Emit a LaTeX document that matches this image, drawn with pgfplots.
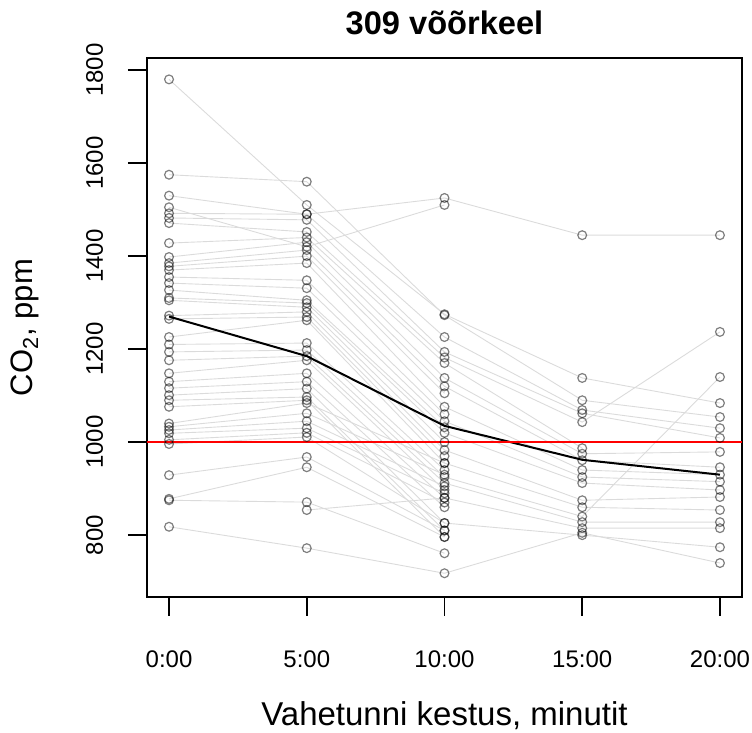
\documentclass[border=0pt]{standalone}
\usepackage{fontspec}
\setmainfont{Liberation Sans}
\usepackage{pgfplots}
\pgfplotsset{compat=1.18}

% one class break, CO2 readings every five minutes
\pgfplotsset{
  run/.style={color=black!14, line width=0.45pt,
    mark=o, mark size=2.2pt,
    mark options={draw=black, draw opacity=0.5, line width=0.6pt}},
}

\begin{document}
\begin{tikzpicture}
\begin{axis}[
  name=ax, at={(0,0)}, anchor=south west,
  scale only axis, width=297.5pt, height=269.5pt,
  xmin=-0.8, xmax=20.8, ymin=667, ymax=1826,
  xtick={0,5,10,15,20},
  xticklabels={0:00,5:00,10:00,15:00,20:00},
  ytick={800,1000,1200,1400,1600,1800},
  yticklabels={800,1000,1200,1400,1600,1800},
  tick align=outside, xtick pos=bottom, ytick pos=left,
  major tick length=9.5pt,
  axis line style={line width=0.8pt},
  every tick/.style={black, line width=0.8pt},
  tick label style={font=\fontsize{12}{14}\selectfont},
  xticklabel style={anchor=base, yshift=-26pt},
  yticklabel style={xshift=-12.5pt, rotate=90, anchor=base},
  title={\bfseries 309 võõrkeel},
  title style={font=\fontsize{16.3}{19}\selectfont,
    at={(axis description cs:0.5,1.022)}, anchor=base},
  xlabel={Vahetunni kestus, minutit},
  xlabel style={font=\fontsize{16.5}{19}\selectfont,
    at={(axis description cs:0.5,-0.2375)}, anchor=base},
  ylabel={CO\textsubscript{2}, ppm},
  ylabel style={font=\fontsize{15.5}{18}\selectfont,
    at={(axis description cs:-0.1916,0.5)}, anchor=base},
  clip=false,
]
\addplot[run] coordinates {(0,1780)(5,1510)(10,1275)(15,1138)(20,1084)};
\addplot[run] coordinates {(0,1575)(5,1560)(10,1273)(15,1090)(20,1054)};
\addplot[run] coordinates {(0,1530)(5,1490)(10,1525)(15,1445)(20,1445)};
\addplot[run] coordinates {(0,1505)(5,1420)(10,1510)};
\addplot[run] coordinates {(0,1492)(5,1490)(10,1226)(15,1069)(20,1030)};
\addplot[run] coordinates {(0,1482)(5,1478)(10,1194)(15,1062)(20,1009)};
\addplot[run] coordinates {(0,1471)(5,1452)(10,1182)(15,1043)(20,1237)};
\addplot[run] coordinates {(0,1428)(5,1440)(10,1170)(15,987)};
\addplot[run] coordinates {(0,1398)(5,1430)(10,1138)(15,975)(20,979)};
\addplot[run] coordinates {(0,1385)(5,1413)(10,1120)(15,961)(20,946)};
\addplot[run] coordinates {(0,1378)(5,1400)(10,1105)};
\addplot[run] coordinates {(0,1370)(5,1385)(10,1076)(15,940)(20,930)};
\addplot[run] coordinates {(0,1355)(5,1348)(10,1060)};
\addplot[run] coordinates {(0,1342)(5,1331)(10,1045)(15,925)(20,915)};
\addplot[run] coordinates {(0,1327)(5,1305)(10,1032)};
\addplot[run] coordinates {(0,1310)(5,1299)(10,1020)(15,912)(20,897)};
\addplot[run] coordinates {(0,1305)(5,1290)(10,1000)};
\addplot[run] coordinates {(0,1272)(5,1280)(10,983)(15,875)(20,882)};
\addplot[run] coordinates {(0,1265)(5,1269)(10,970)};
\addplot[run] coordinates {(0,1226)(5,1262)(10,955)(15,860)(20,854)};
\addplot[run] coordinates {(0,1210)(5,1213)(10,940)};
\addplot[run] coordinates {(0,1194)(5,1198)(10,925)(15,840)(20,1140)};
\addplot[run] coordinates {(0,1176)(5,1185)(10,912)(15,828)(20,828)};
\addplot[run] coordinates {(0,1148)(5,1176)(10,897)};
\addplot[run] coordinates {(0,1130)(5,1148)(10,880)(15,815)(20,815)};
\addplot[run] coordinates {(0,1116)(5,1130)(10,860)};
\addplot[run] coordinates {(0,1101)(5,1115)(10,826)(15,800)(20,774)};
\addplot[run] coordinates {(0,1090)(5,1097)(10,810)};
\addplot[run] coordinates {(0,1076)(5,1090)(10,796)};
\addplot[run] coordinates {(0,1040)(5,1084)(10,955)};
\addplot[run] coordinates {(0,1033)(5,1062)(10,930)};
\addplot[run] coordinates {(0,1026)(5,1045)(10,905)};
\addplot[run] coordinates {(0,1019)(5,1030)(10,890)};
\addplot[run] coordinates {(0,1005)(5,1020)(10,870)};
\addplot[run] coordinates {(0,996)(5,1011)(10,826)};
\addplot[run] coordinates {(0,929)(5,968)(10,810)};
\addplot[run] coordinates {(0,878)(5,946)(10,796)};
\addplot[run] coordinates {(0,875)(5,871)(10,761)};
\addplot[run] coordinates {(0,818)(5,772)(10,718)(15,805)(20,740)};
\addplot[run] coordinates {(5,854)(10,880)};
% mean over all breaks
\addplot[black, line width=1pt] coordinates {(0,1270)(5,1185)(10,1035)(15,962)(20,930)};
% 1000 ppm limit
\addplot[red, line width=1pt] coordinates {(-0.8,1000)(20.8,1000)};
\end{axis}
\pgfresetboundingbox
\path[use as bounding box] (-73.5pt,-68pt) rectangle (302.5pt,298.5pt);
\end{tikzpicture}
\end{document}
